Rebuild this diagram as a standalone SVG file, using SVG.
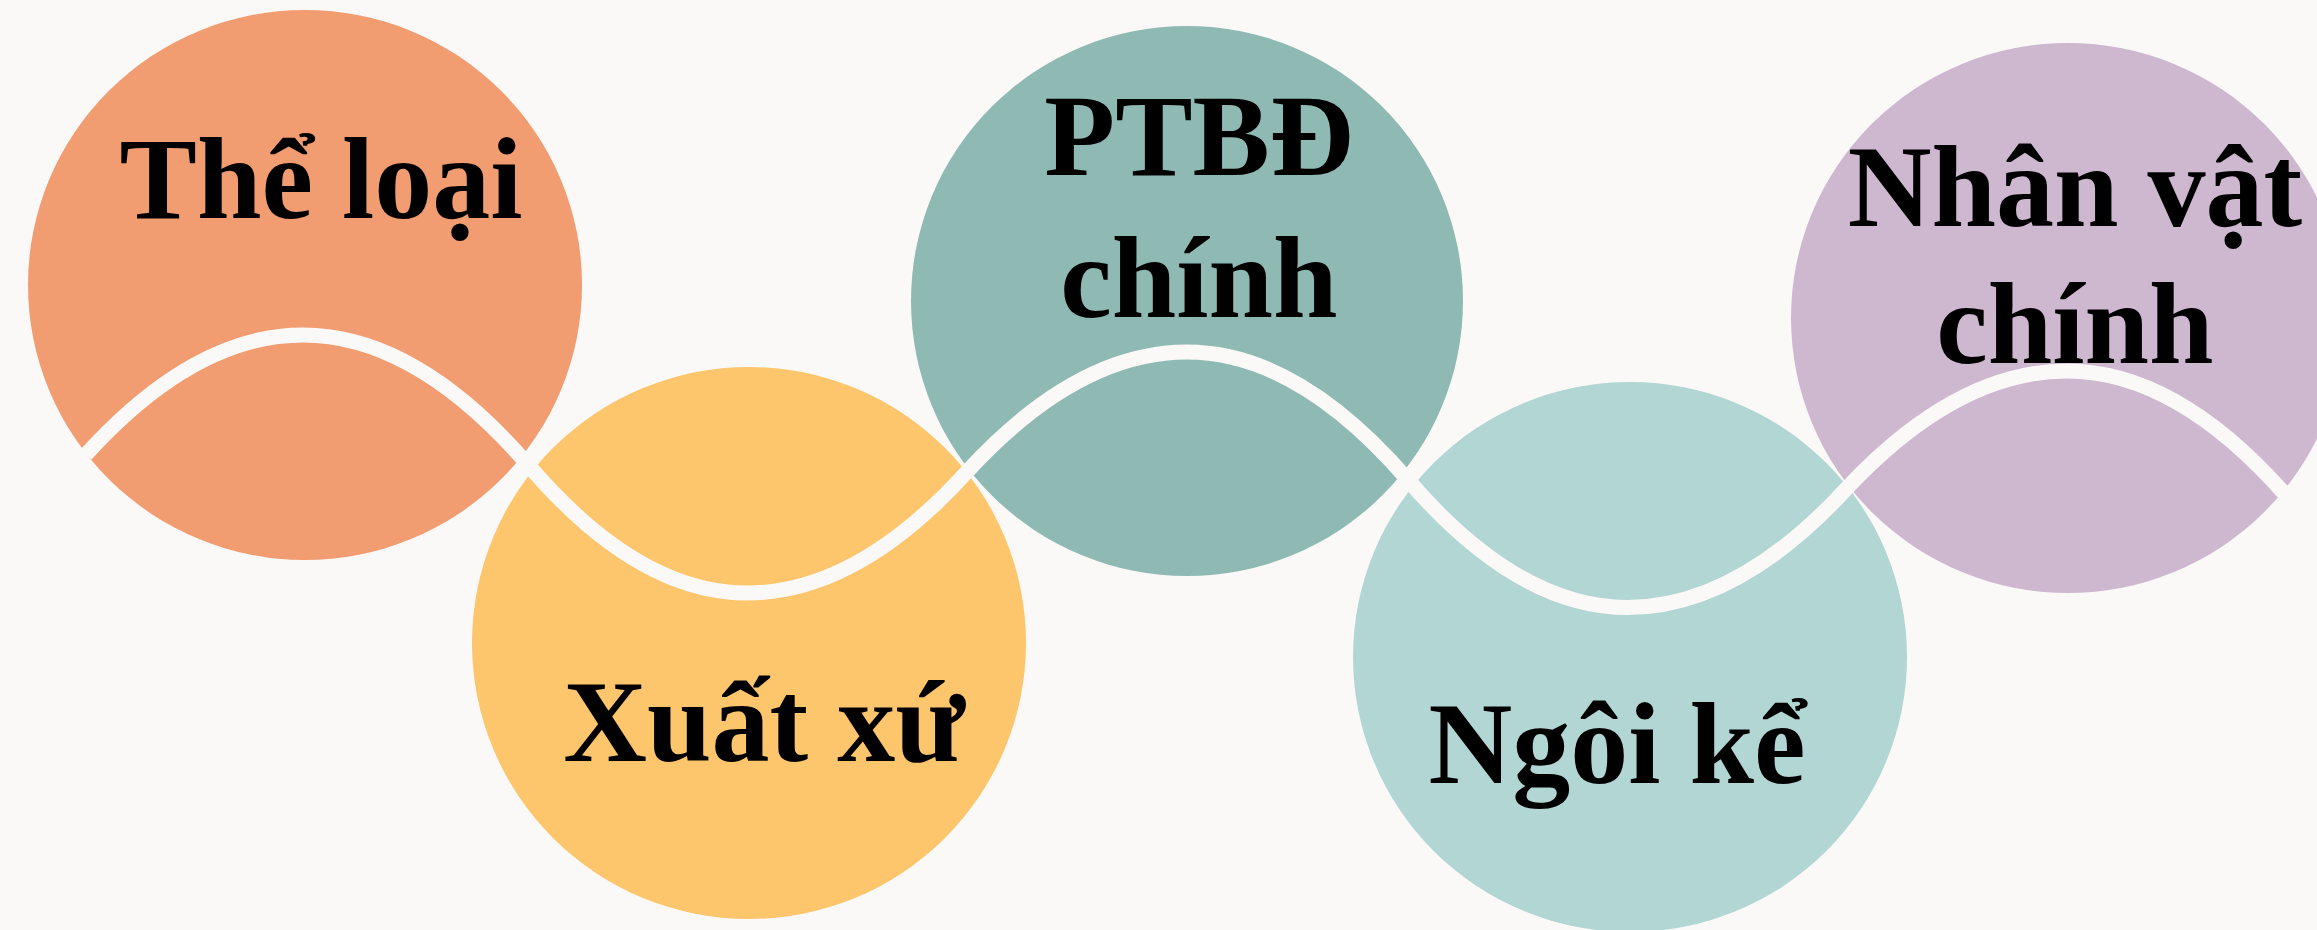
<svg xmlns="http://www.w3.org/2000/svg" width="2317" height="930" viewBox="0 0 2317 930">
  <style>
    .lbl { font-family: "Liberation Serif", "Times New Roman", serif; font-weight: bold; font-size: 116px; fill: #000000; text-anchor: middle; }
    .wave { fill: none; stroke: #FAF9F7; stroke-width: 15; stroke-linecap: butt; stroke-linejoin: round; }
  </style>
  <rect x="0" y="0" width="2317" height="930" fill="#FAF9F7"/>
  <g id="node-the-loai">
    <ellipse cx="305" cy="285" rx="277" ry="275" fill="#F29D71"/>
  </g>
  <g id="node-xuat-xu">
    <ellipse cx="749" cy="643" rx="277" ry="276" fill="#FDC56C"/>
  </g>
  <g id="node-ptbd-chinh">
    <ellipse cx="1187" cy="301" rx="276" ry="275" fill="#8FBAB3"/>
  </g>
  <g id="node-ngoi-ke">
    <ellipse cx="1630" cy="657" rx="277" ry="275" fill="#B2D6D3"/>
  </g>
  <g id="node-nhan-vat-chinh">
    <ellipse cx="2068" cy="318" rx="277" ry="275" fill="#CEB8D0"/>
  </g>
  <g id="connectors">
    <path class="wave" d="M86,454.5 Q194.5,335 303,335 Q414.75,335 526.5,463 Q636.75,593 747,593 Q857,593 967,471.7 Q1077,352 1187,352 Q1297.5,352 1408,480 Q1517.75,607.5 1627.5,607.5 Q1737.25,607.5 1847,488 Q1957,371 2067,371 Q2177,371 2287,496.5"/>
  </g>
  <g id="labels">
    <text class="lbl" x="321" y="218">Thể loại</text>
    <text class="lbl" x="764" y="761">Xuất xứ</text>
    <text class="lbl" x="1199" y="175">PTBĐ</text>
    <text class="lbl" x="1199" y="317">chính</text>
    <text class="lbl" x="1617" y="783">Ngôi kể</text>
    <text class="lbl" x="2075" y="226">Nhân vật</text>
    <text class="lbl" x="2075" y="363">chính</text>
  </g>
</svg>
